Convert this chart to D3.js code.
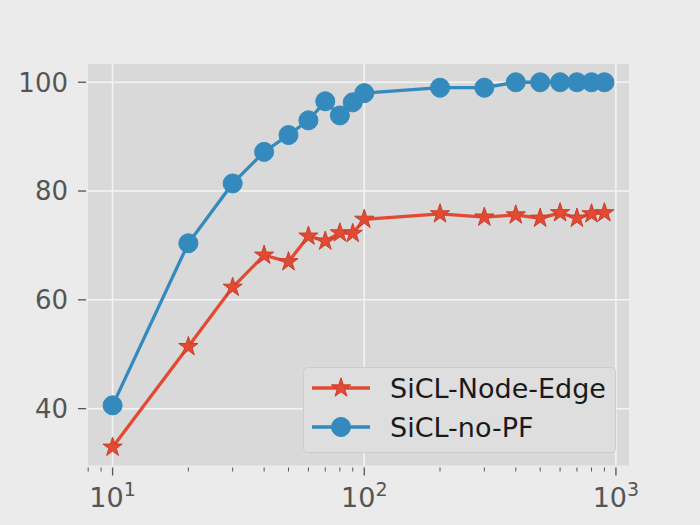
<!DOCTYPE html>
<html>
<head>
<meta charset="utf-8">
<script src="https://cdn.jsdelivr.net/npm/d3@7"></script>
<style>
  body { margin: 0; background: #ebebeb; }
  text { font-family: "DejaVu Sans", sans-serif; }
</style>
</head>
<body>
<div id="chart"></div>
<script>
  var width = 700,
      height = 525,
      plot_left = 88, plot_right = 629, plot_top = 64, plot_bottom = 465.5;

  // data
  var steps = [10, 20, 30, 40, 50, 60, 70, 80, 90, 100, 200, 300, 400, 500, 600, 700, 800, 900];
  var node_edge = [32.9, 51.4, 62.3, 68.2, 67.0, 71.7, 70.8, 72.3, 72.2, 74.8, 75.8, 75.2, 75.6, 75.0, 76.0, 75.0, 75.8, 76.0];
  var no_pf = [40.6, 70.4, 81.4, 87.2, 90.3, 93.0, 96.5, 93.9, 96.3, 98.0, 99.0, 99.0, 100, 100, 100, 100, 100, 100];
  var series_names = ['SiCL-Node-Edge', 'SiCL-no-PF'];
  var y_ticks = [40, 60, 80, 100];
  var x_ticks = [10, 100, 1000];

  var series = [
    { name: series_names[0], values: node_edge, color: '#E24A33', edge: '#c93d28', marker: 'star' },
    { name: series_names[1], values: no_pf, color: '#348ABD', edge: '#348ABD', marker: 'circle' }
  ];

  var svg = d3.select('#chart').append('svg')
    .attr('width', width)
    .attr('height', height);

  svg.append('rect')
    .attr('width', width).attr('height', height)
    .attr('fill', '#ebebeb');

  // matplotlib style 5% margins
  var lx = d3.extent(steps).map(Math.log10),
      mx = (lx[1] - lx[0]) * 0.05;
  var x = d3.scaleLog()
    .domain([Math.pow(10, lx[0] - mx), Math.pow(10, lx[1] + mx)])
    .range([plot_left, plot_right]);

  var all_y = node_edge.concat(no_pf),
      ey = d3.extent(all_y),
      my = (ey[1] - ey[0]) * 0.05;
  var y = d3.scaleLinear()
    .domain([ey[0] - my, ey[1] + my])
    .range([plot_bottom, plot_top]);

  svg.append('rect')
    .attr('x', plot_left).attr('y', plot_top)
    .attr('width', plot_right - plot_left).attr('height', plot_bottom - plot_top)
    .attr('fill', '#d9d9d9');

  // grid
  var grid = svg.append('g').attr('stroke', '#f4f4f4').attr('stroke-width', 1.5);
  grid.selectAll('.gy').data(y_ticks).enter().append('line')
    .attr('x1', plot_left).attr('x2', plot_right)
    .attr('y1', function(d) { return y(d); })
    .attr('y2', function(d) { return y(d); });
  grid.selectAll('.gx').data(x_ticks).enter().append('line')
    .attr('y1', plot_top).attr('y2', plot_bottom)
    .attr('x1', function(d) { return x(d); })
    .attr('x2', function(d) { return x(d); });

  // y axis
  var y_axis = svg.append('g');
  y_axis.selectAll('line').data(y_ticks).enter().append('line')
    .attr('x1', 78).attr('x2', 86)
    .attr('y1', function(d) { return y(d); })
    .attr('y2', function(d) { return y(d); })
    .attr('stroke', '#555').attr('stroke-width', 1.3);
  y_axis.selectAll('text').data(y_ticks).enter().append('text')
    .attr('x', 68)
    .attr('y', function(d) { return y(d); })
    .attr('dy', '0.36em')
    .attr('text-anchor', 'end')
    .attr('font-size', 26)
    .attr('fill', '#555')
    .text(function(d) { return d; });

  // x axis (log)
  var minor = x.ticks().filter(function(d) {
    return x_ticks.indexOf(d) < 0 && x(d) >= plot_left - 0.5 && x(d) <= plot_right + 0.5;
  });
  var x_axis = svg.append('g');
  x_axis.selectAll('.minor').data(minor).enter().append('line')
    .attr('x1', function(d) { return x(d); })
    .attr('x2', function(d) { return x(d); })
    .attr('y1', plot_bottom + 2).attr('y2', plot_bottom + 6)
    .attr('stroke', '#555').attr('stroke-width', 1);
  x_axis.selectAll('.major').data(x_ticks).enter().append('line')
    .attr('x1', function(d) { return x(d); })
    .attr('x2', function(d) { return x(d); })
    .attr('y1', plot_bottom + 2).attr('y2', plot_bottom + 10)
    .attr('stroke', '#555').attr('stroke-width', 1.3);
  var xl = x_axis.selectAll('text').data(x_ticks).enter().append('text')
    .attr('x', function(d) { return x(d); })
    .attr('y', 507)
    .attr('text-anchor', 'middle')
    .attr('font-size', 27)
    .attr('fill', '#555');
  xl.append('tspan').text('10');
  xl.append('tspan')
    .attr('dy', -11).attr('font-size', 19)
    .text(function(d) { return Math.round(Math.log10(d)); });

  // lines and markers
  var line = d3.line()
    .x(function(d, i) { return x(steps[i]); })
    .y(function(d) { return y(d); });

  var star = d3.symbol().type(d3.symbolStar).size(115),
      circle = d3.symbol().type(d3.symbolCircle).size(285);

  series.forEach(function(s) {
    var g = svg.append('g');
    g.append('path')
      .attr('d', line(s.values))
      .attr('fill', 'none')
      .attr('stroke', s.color)
      .attr('stroke-width', 3.3);
    g.selectAll('path.m').data(s.values).enter().append('path')
      .attr('class', 'm')
      .attr('transform', function(d, i) { return 'translate(' + x(steps[i]) + ',' + y(d) + ')'; })
      .attr('d', s.marker == 'star' ? star() : circle())
      .attr('fill', s.color)
      .attr('stroke', s.edge)
      .attr('stroke-width', 1);
  });

  // legend
  var legend = svg.append('g');
  legend.append('rect')
    .attr('x', 303.5).attr('y', 367.5)
    .attr('width', 312).attr('height', 85)
    .attr('rx', 4)
    .attr('fill', '#dedede')
    .attr('stroke', '#cccccc');
  var rows = legend.selectAll('g').data(series).enter().append('g')
    .attr('transform', function(d, i) { return 'translate(0,' + (388 + i * 39) + ')'; });
  rows.append('line')
    .attr('x1', 312).attr('x2', 370)
    .attr('stroke', function(d) { return d.color; })
    .attr('stroke-width', 3.3);
  rows.append('path')
    .attr('transform', 'translate(341,0)')
    .attr('d', function(d) { return d.marker == 'star' ? star() : circle(); })
    .attr('fill', function(d) { return d.color; })
    .attr('stroke', function(d) { return d.edge; })
    .attr('stroke-width', 1);
  rows.append('text')
    .attr('x', 390)
    .attr('dy', '0.36em')
    .attr('font-size', 27)
    .attr('fill', '#1a1a1a')
    .text(function(d) { return d.name; });
</script>
</body>
</html>
